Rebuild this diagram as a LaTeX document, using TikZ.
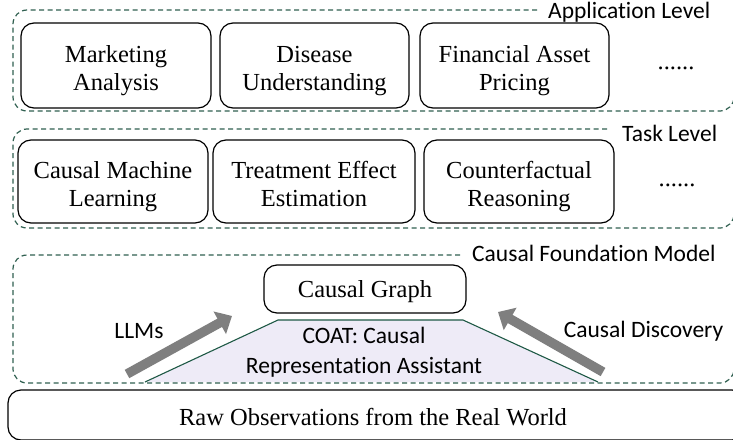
\documentclass[tikz,border=0pt]{standalone}
\usepackage{fontspec}
\setmainfont{Liberation Serif}
\newfontfamily\calfont[Ligatures={NoCommon,NoRare}]{Carlito}
\usetikzlibrary{arrows.meta}
\definecolor{dgreen}{HTML}{2F5F50}
\definecolor{tgreen}{HTML}{1E5945}
\definecolor{lav}{HTML}{EEEBF7}
\definecolor{agray}{HTML}{7F7F7F}
\newcommand{\fstr}{\rule{0pt}{27.5pt}}
\newcommand{\lstr}{\rule[-6pt]{0pt}{6pt}}
\newcommand{\gstr}{\rule[-6pt]{0pt}{29pt}}
\tikzset{
  rbox/.style={draw=black, line width=1.2pt, rounded corners=13pt, align=center,
    font=\fontsize{24.5}{28.5}\selectfont, inner sep=0pt},
  dbox/.style={draw=dgreen, line width=1.2pt, dash pattern=on 5pt off 3.5pt, rounded corners=14pt},
  lvl/.style={font=\calfont\fontsize{23.5}{27}\selectfont, inner sep=0pt},
  blk/.style={draw=agray, line width=9.5pt, -{Triangle[length=14pt,width=25pt]}},
  dots/.style={font=\fontsize{24.5}{28}\selectfont, inner sep=0pt}
}
\begin{document}
\begin{tikzpicture}[x=1pt,y=-1pt]
\useasboundingbox (0,0) rectangle (733,439);
\clip (0,0) rectangle (733,439);
% Application level
\draw[dbox] (537,10) -- (13,10) -- (13,111) -- (734,111) -- (734,40);
\node[lvl, anchor=base west] (applbl) at (548,18) {Application Level};
\node[rbox, minimum width=190pt, minimum height=85pt] (mkt) at (116,65.5) {\fstr Marketing\\Analysis\lstr};
\node[rbox, minimum width=189pt, minimum height=85pt] (dis) at (314.5,65.5) {\fstr Disease\\Understanding\lstr};
\node[rbox, minimum width=189pt, minimum height=85pt] (fin) at (514.5,65.5) {\fstr Financial Asset\\Pricing\lstr};
\node[dots] (appdots) at (676,68) {......};
% Task level
\draw[dbox] (607,129) -- (13,129) -- (13,228) -- (734,228) -- (734,160);
\node[lvl, anchor=base west] (tasklbl) at (622,141) {Task Level};
\node[rbox, minimum width=190pt, minimum height=83pt] (cml) at (113,181.5) {\fstr Causal Machine\\Learning\lstr};
\node[rbox, minimum width=202pt, minimum height=83pt] (tee) at (314,181.5) {\fstr Treatment Effect\\Estimation\lstr};
\node[rbox, minimum width=190pt, minimum height=83pt] (cfr) at (519,181.5) {\fstr Counterfactual\\Reasoning\lstr};
\node[dots] (taskdots) at (677,185) {......};
% Causal foundation model
\path[fill=lav] (145,382) -- (278,320) -- (463,320) -- (598,382) -- cycle;
\draw[tgreen, line width=1.1pt] (145,382) -- (278,320) -- (463,320) -- (598,382);
\draw[dbox] (460,255) -- (13,255) -- (13,383) -- (734,383) -- (734,300);
\node[lvl, anchor=base west] (cfmlbl) at (472,261) {Causal Foundation Model};
\node[rbox, minimum width=202pt, minimum height=48pt] (cg) at (365,289) {\gstr Causal Graph};
\node[lvl, align=center, font=\calfont\fontsize{23.5}{30}\selectfont] (coat) at (364,352) {COAT: Causal\\Representation Assistant};
\coordinate (llmA) at (127,374);
\coordinate (llmB) at (232,316);
\coordinate (cdA) at (603,372);
\coordinate (cdB) at (498,312);
\draw[blk] (llmA) -- (llmB);
\draw[blk] (cdA) -- (cdB);
\node[lvl] (llm) at (139,331) {LLMs};
\node[lvl] (cd) at (643.5,331) {Causal Discovery};
% Raw observations
\node[rbox, minimum width=737pt, minimum height=50pt] (raw) at (376.5,415) {};
\node[font=\fontsize{24.5}{28}\selectfont, inner sep=0pt] (rawtxt) at (373,417) {Raw Observations from the Real World};
\end{tikzpicture}
\end{document}
